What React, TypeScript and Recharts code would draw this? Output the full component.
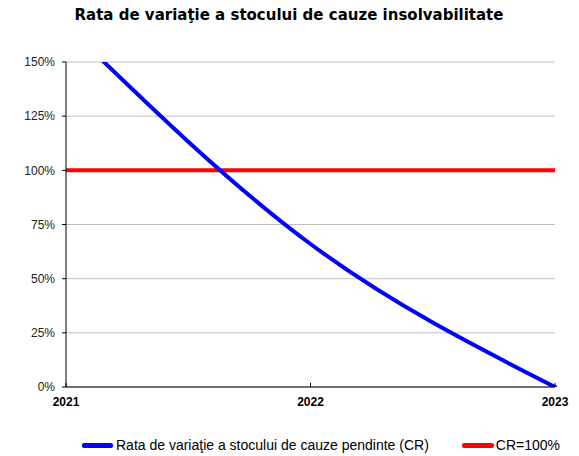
import { LineChart, Line, XAxis, YAxis, CartesianGrid } from 'recharts';

const years = [2021, 2022, 2023];
const crValues = [167, 66, 0];
const targetValues = [100, 100, 100];
const yTicks = [0, 25, 50, 75, 100, 125, 150];

const seriesNames = ['Rata de variaţie a stocului de cauze pendinte (CR)', 'CR=100%'];
const seriesColors = ['#0000ff', '#ff0000'];

const data = years.map((year, i) => ({ year, cr: crValues[i], target: targetValues[i] }));

const FONT = 'Arial, "Liberation Sans", Helvetica, sans-serif';

function YearTick({ x, y, payload }: any) {
  return (
    <g>
      <line x1={x} x2={x} y1={y} y2={y - 4} stroke="#000" strokeWidth={1} />
      <text x={x} y={y + 19} textAnchor="middle" fontFamily={FONT} fontSize={12} fontWeight="bold" fill="#000">
        {payload.value}
      </text>
    </g>
  );
}

export default function App() {
  return (
    <div style={{ position: 'relative', width: 579, height: 456, background: '#fff', fontFamily: FONT }}>
      <style>{'body{margin:0}'}</style>
      <div
        style={{
          position: 'absolute',
          top: 6,
          left: 0,
          width: 578,
          textAlign: 'center',
          fontFamily: '"DejaVu Sans", Verdana, sans-serif',
          fontSize: 15,
          fontWeight: 'bold',
          color: '#000',
          whiteSpace: 'nowrap',
        }}
      >
        Rata de variaţie a stocului de cauze insolvabilitate
      </div>
      <LineChart width={579} height={456} data={data} margin={{ top: 62, right: 24, left: 0, bottom: 39 }}>
        <CartesianGrid horizontal vertical={false} stroke="#c0c0c0" strokeWidth={1} />
        <XAxis
          dataKey="year"
          type="number"
          domain={[2021, 2023]}
          ticks={years}
          tick={<YearTick />}
          tickSize={0}
          tickMargin={0}
          axisLine={{ stroke: '#000', strokeWidth: 1 }}
          height={30}
        />
        <YAxis
          domain={[0, 150]}
          ticks={yTicks}
          allowDataOverflow
          width={66}
          tickFormatter={(v) => `${v}%`}
          tick={{ fill: '#222', fontSize: 12, fontFamily: FONT }}
          tickSize={4}
          tickMargin={7}
          tickLine={{ stroke: '#000' }}
          axisLine={{ stroke: '#000', strokeWidth: 1 }}
        />
        <Line
          type="linear"
          dataKey="target"
          name={seriesNames[1]}
          stroke={seriesColors[1]}
          strokeWidth={4}
          dot={false}
          isAnimationActive={false}
        />
        <Line
          type="monotone"
          dataKey="cr"
          name={seriesNames[0]}
          stroke={seriesColors[0]}
          strokeWidth={4}
          strokeLinecap="round"
          dot={false}
          isAnimationActive={false}
        />
      </LineChart>
      <div
        style={{
          position: 'absolute',
          top: 437,
          left: 82,
          display: 'flex',
          alignItems: 'center',
          fontSize: 14,
          color: '#000',
          whiteSpace: 'nowrap',
        }}
      >
        <span style={{ display: 'inline-block', width: 31, height: 5, borderRadius: 2, background: seriesColors[0], marginRight: 3 }} />
        <span>{seriesNames[0]}</span>
        <span style={{ display: 'inline-block', width: 32, height: 5, borderRadius: 2, background: seriesColors[1], marginLeft: 33, marginRight: 2 }} />
        <span>{seriesNames[1]}</span>
      </div>
    </div>
  );
}
